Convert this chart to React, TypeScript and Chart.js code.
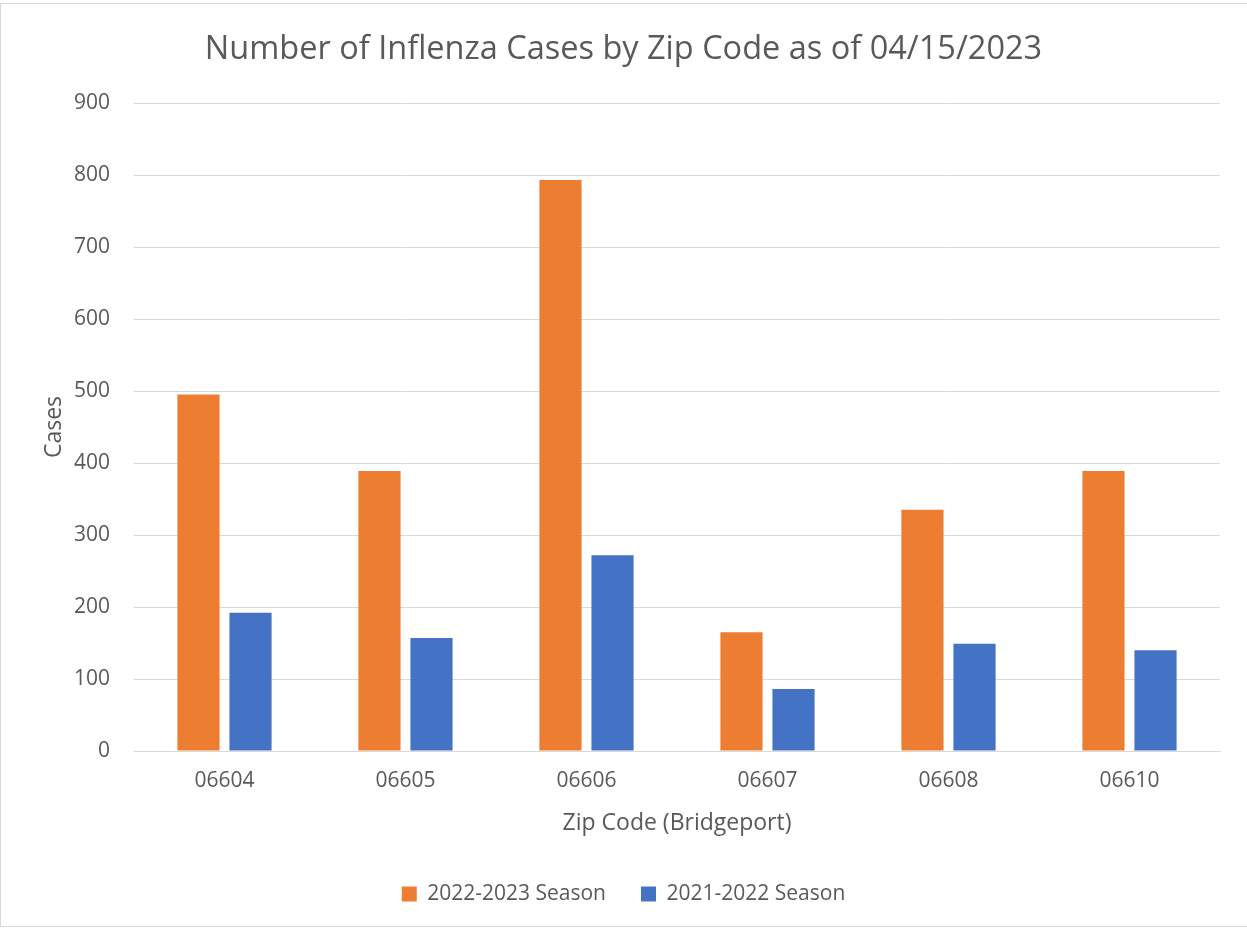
import { useEffect, useRef } from "react";
import { Chart, registerables } from "chart.js";

Chart.register(...registerables);

const categories = ["06604", "06605", "06606", "06607", "06608", "06610"];
const season2022_2023 = [495, 389, 793, 165, 335, 389];
const season2021_2022 = [192, 157, 272, 86, 149, 140];
const seriesLabels = ["2022-2023 Season", "2021-2022 Season"];
const yMax = 900;
const yStep = 100;

const textColor = "#595959";
const gridColor = "#d9d9d9";
const baseFont = "'Open Sans', 'DejaVu Sans', sans-serif";

export default function App() {
  const canvasRef = useRef<HTMLCanvasElement | null>(null);

  useEffect(() => {
    document.body.style.margin = "0";
    const canvas = canvasRef.current;
    if (!canvas) return;
    const chart = new Chart(canvas, {
      type: "bar",
      data: {
        labels: categories,
        datasets: [
          {
            label: seriesLabels[0],
            data: season2022_2023,
            backgroundColor: "#ED7D31",
            barPercentage: 0.81,
            categoryPercentage: 0.575,
          },
          {
            label: seriesLabels[1],
            data: season2021_2022,
            backgroundColor: "#4472C4",
            barPercentage: 0.81,
            categoryPercentage: 0.575,
          },
        ],
      },
      options: {
        animation: false,
        responsive: false,
        maintainAspectRatio: false,
        layout: { padding: { left: 27, right: 27, top: 0, bottom: 15.5 } },
        plugins: {
          title: {
            display: true,
            text: "Number of Inflenza Cases by Zip Code as of 04/15/2023",
            color: textColor,
            font: { family: baseFont, size: 32.5, weight: "normal", lineHeight: 1.2 },
            padding: { top: 30.5, bottom: 33.5 },
          },
          legend: {
            display: true,
            position: "bottom",
            labels: {
              color: textColor,
              font: { family: baseFont, size: 21 },
              boxWidth: 15,
              boxHeight: 15,
              padding: 35,
            },
          },
          tooltip: { enabled: false },
        },
        scales: {
          x: {
            grid: { display: false, drawTicks: false },
            border: { display: true, color: gridColor, width: 1 },
            ticks: { color: textColor, font: { family: baseFont, size: 21 }, padding: 17 },
            title: {
              display: true,
              text: "Zip Code (Bridgeport)",
              color: textColor,
              font: { family: baseFont, size: 23 },
              padding: { top: 0, bottom: 11.7 },
            },
            afterFit: (scale: any) => {
              scale.height = 97.5;
            },
          },
          y: {
            min: 0,
            max: yMax,
            grid: { color: gridColor, lineWidth: 1, drawTicks: false },
            border: { display: false },
            ticks: {
              stepSize: yStep,
              color: textColor,
              font: { family: baseFont, size: 21 },
              padding: 24,
            },
            title: {
              display: true,
              text: "Cases",
              color: textColor,
              font: { family: baseFont, size: 23 },
              padding: { top: 14, bottom: 0 },
            },
            afterFit: (scale: any) => {
              scale.width = 107;
            },
          },
        },
      },
    });
    return () => chart.destroy();
  }, []);

  return (
    <div
      style={{
        position: "fixed",
        left: 0,
        top: 0,
        width: 1247,
        height: 930,
        background: "#ffffff",
      }}
    >
      <div
        style={{
          position: "absolute",
          left: 0,
          top: 3,
          width: 1260,
          height: 924,
          borderLeft: "1px solid #d9d9d9",
          borderTop: "1px solid #d9d9d9",
          borderBottom: "1px solid #d9d9d9",
          boxSizing: "border-box",
          pointerEvents: "none",
        }}
      />
      <canvas ref={canvasRef} width={1247} height={930} style={{ position: "absolute", left: 0, top: 0 }} />
    </div>
  );
}
